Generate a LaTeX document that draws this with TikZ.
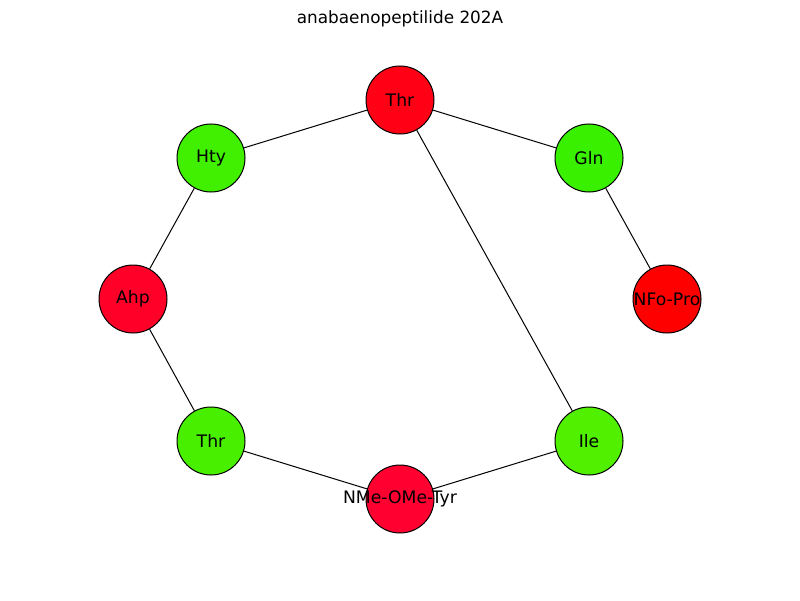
\documentclass[tikz,border=0pt]{standalone}
\usepackage{fontspec}
\setmainfont{DejaVu Sans}
\usetikzlibrary{positioning}
\definecolor{redA}{HTML}{FF0015}
\definecolor{redB}{HTML}{FF0000}
\definecolor{redC}{HTML}{FF0030}
\definecolor{redD}{HTML}{FF0028}
\definecolor{greenA}{HTML}{38F000}
\definecolor{greenB}{HTML}{50F000}
\definecolor{greenC}{HTML}{48F000}
\definecolor{greenD}{HTML}{40F000}
\tikzset{
  residue/.style={circle,draw=black,line width=.57pt,minimum size=1.36cm,inner sep=0pt,font=\fontsize{9.8}{11}\selectfont},
  bond/.style={line width=.57pt}
}

\begin{document}
\begin{tikzpicture}
\useasboundingbox (0,0) rectangle (16,12);
\node[font=\fontsize{9.6}{11}\selectfont] (title) at (8,11.62) {anabaenopeptilide 202A};
% residues
\node[residue,fill=redA] (thrA) at (8,10) {Thr};
\node[residue,fill=greenA] (gln) at (11.78,8.84) {Gln};
\node[residue,fill=redB] (nfopro) at (13.34,6.02) {\makebox[0pt]{NFo-Pro}};
\node[residue,fill=greenB] (ile) at (11.78,3.18) {Ile};
\node[residue,fill=redC] (nmetyr) at (8,2.02) {\makebox[0pt]{NMe-OMe-Tyr}};
\node[residue,fill=greenC] (thrB) at (4.22,3.18) {Thr};
\node[residue,fill=redD] (ahp) at (2.66,6.02) {Ahp};
\node[residue,fill=greenD] (hty) at (4.22,8.84) {Hty};
% bonds
\draw[bond] (thrA) -- (hty);
\draw[bond] (thrA) -- (gln);
\draw[bond] (thrA) -- (ile);
\draw[bond] (gln) -- (nfopro);
\draw[bond] (hty) -- (ahp);
\draw[bond] (ahp) -- (thrB);
\draw[bond] (thrB) -- (nmetyr);
\draw[bond] (nmetyr) -- (ile);
\end{tikzpicture}
\end{document}
